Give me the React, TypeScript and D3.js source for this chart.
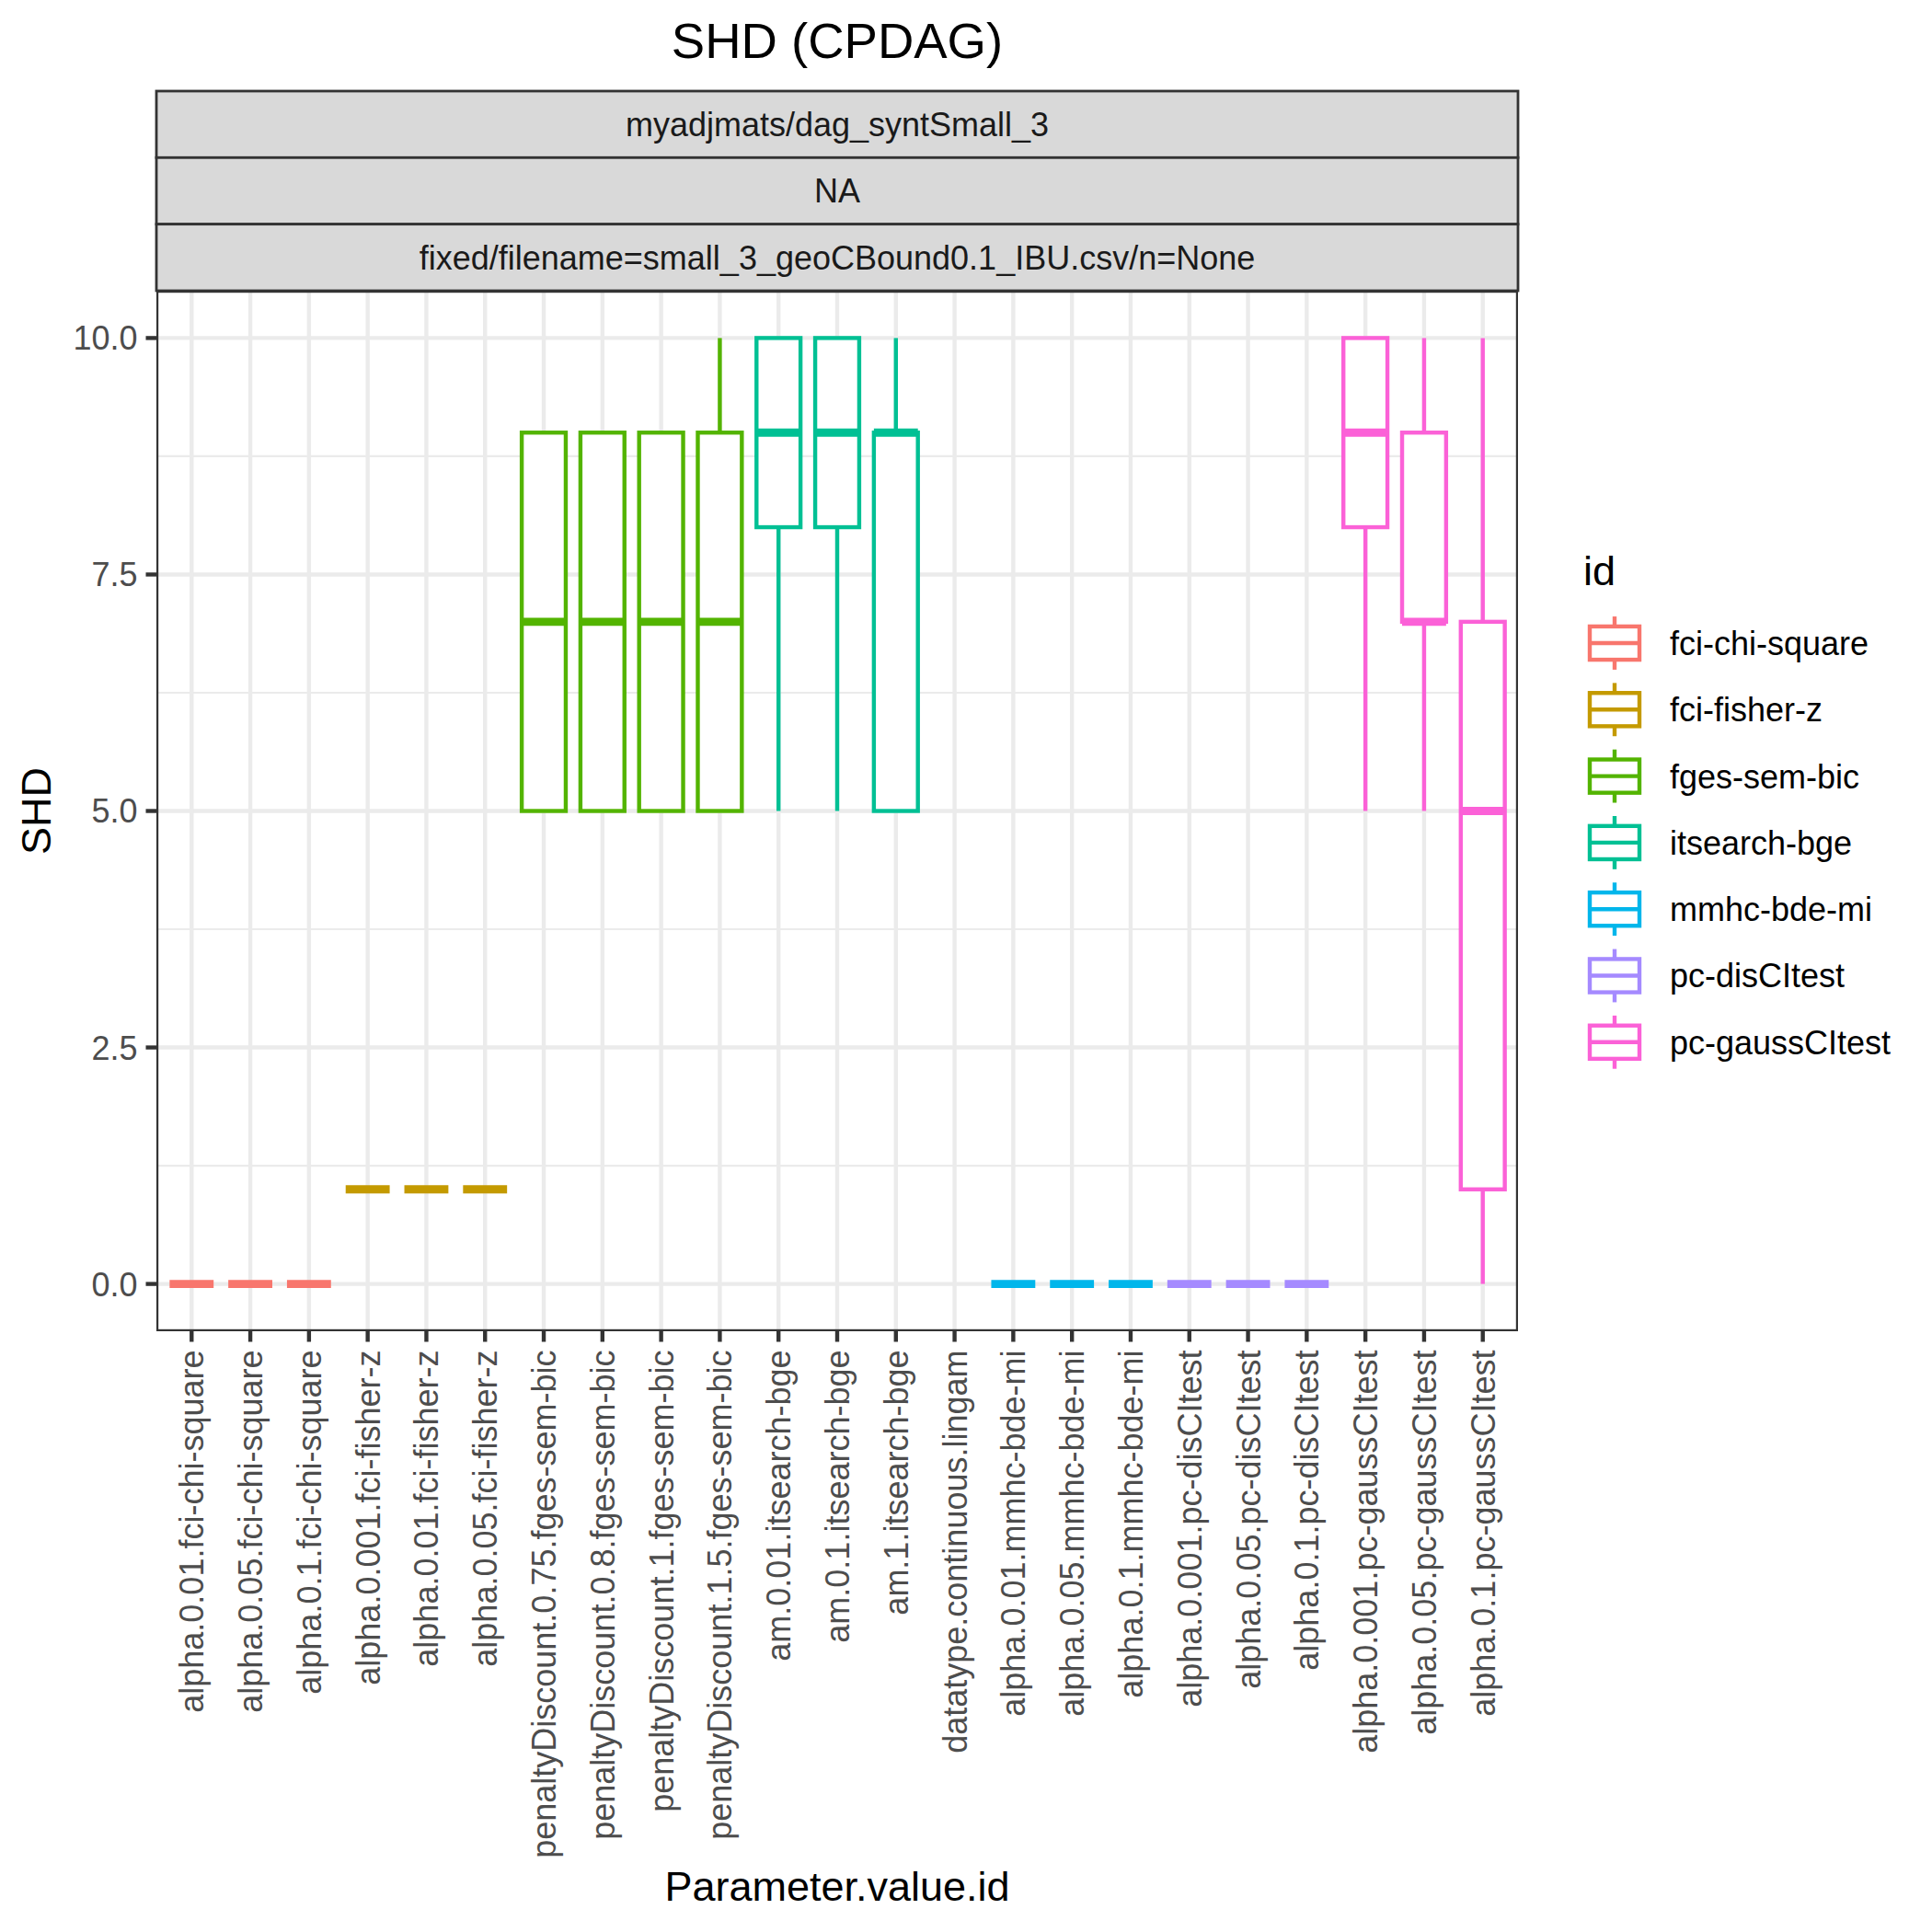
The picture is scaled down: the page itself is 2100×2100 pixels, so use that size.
import { useRef, useEffect } from "react";
import * as d3 from "d3";

// x categories (Parameter.value.id) and the method each belongs to
const categories = [
  "alpha.0.01.fci-chi-square",
  "alpha.0.05.fci-chi-square",
  "alpha.0.1.fci-chi-square",
  "alpha.0.001.fci-fisher-z",
  "alpha.0.01.fci-fisher-z",
  "alpha.0.05.fci-fisher-z",
  "penaltyDiscount.0.75.fges-sem-bic",
  "penaltyDiscount.0.8.fges-sem-bic",
  "penaltyDiscount.1.fges-sem-bic",
  "penaltyDiscount.1.5.fges-sem-bic",
  "am.0.01.itsearch-bge",
  "am.0.1.itsearch-bge",
  "am.1.itsearch-bge",
  "datatype.continuous.lingam",
  "alpha.0.01.mmhc-bde-mi",
  "alpha.0.05.mmhc-bde-mi",
  "alpha.0.1.mmhc-bde-mi",
  "alpha.0.001.pc-disCItest",
  "alpha.0.05.pc-disCItest",
  "alpha.0.1.pc-disCItest",
  "alpha.0.001.pc-gaussCItest",
  "alpha.0.05.pc-gaussCItest",
  "alpha.0.1.pc-gaussCItest",
];

const methodOf = [
  "fci-chi-square", "fci-chi-square", "fci-chi-square",
  "fci-fisher-z", "fci-fisher-z", "fci-fisher-z",
  "fges-sem-bic", "fges-sem-bic", "fges-sem-bic", "fges-sem-bic",
  "itsearch-bge", "itsearch-bge", "itsearch-bge",
  "lingam",
  "mmhc-bde-mi", "mmhc-bde-mi", "mmhc-bde-mi",
  "pc-disCItest", "pc-disCItest", "pc-disCItest",
  "pc-gaussCItest", "pc-gaussCItest", "pc-gaussCItest",
];

// boxplot stats per category (null = no data)
const whiskerLow = [0, 0, 0, 1, 1, 1, 5, 5, 5, 5, 5, 5, 5, null, 0, 0, 0, 0, 0, 0, 5, 5, 0];
const q1 = [0, 0, 0, 1, 1, 1, 5, 5, 5, 5, 8, 8, 5, null, 0, 0, 0, 0, 0, 0, 8, 7, 1];
const median = [0, 0, 0, 1, 1, 1, 7, 7, 7, 7, 9, 9, 9, null, 0, 0, 0, 0, 0, 0, 9, 7, 5];
const q3 = [0, 0, 0, 1, 1, 1, 9, 9, 9, 9, 10, 10, 9, null, 0, 0, 0, 0, 0, 0, 10, 9, 7];
const whiskerHigh = [0, 0, 0, 1, 1, 1, 9, 9, 9, 10, 10, 10, 10, null, 0, 0, 0, 0, 0, 0, 10, 10, 10];

const legendIds = [
  "fci-chi-square",
  "fci-fisher-z",
  "fges-sem-bic",
  "itsearch-bge",
  "mmhc-bde-mi",
  "pc-disCItest",
  "pc-gaussCItest",
];
const legendColors = ["#F8766D", "#C49A00", "#53B400", "#00C094", "#00B6EB", "#A58AFF", "#FB61D7"];

const yTicks = [0, 2.5, 5, 7.5, 10];
const yMinor = [1.25, 3.75, 6.25, 8.75];
const stripLabels = [
  "myadjmats/dag_syntSmall_3",
  "NA",
  "fixed/filename=small_3_geoCBound0.1_IBU.csv/n=None",
];

const FONT = "'Liberation Sans', Arial, Helvetica, sans-serif";
const SMALL = 36;
const MID = 45;

const App = () => {
  const svgRef = useRef(null);

  useEffect(() => {
    d3.select(svgRef.current).selectAll("*").remove();

    const width = 2100;
    const height = 2100;
    const panel = { left: 170, right: 1650, top: 316, bottom: 1447 };
    const stripTop = 99;
    const stripH = (panel.top - stripTop) / 3;
    const lw = 4.4;

    const svg = d3.select(svgRef.current).attr("width", width).attr("height", height);

    svg.append("rect").attr("width", width).attr("height", height).attr("fill", "white");

    const x = d3.scalePoint().domain(categories).range([panel.left, panel.right]).padding(0.6);
    const y = d3.scaleLinear().domain([-0.5, 10.5]).range([panel.bottom, panel.top]);
    const color = d3.scaleOrdinal().domain(legendIds).range(legendColors);
    const boxW = x.step() * 0.75;

    svg
      .append("defs")
      .append("clipPath")
      .attr("id", "panel-clip")
      .append("rect")
      .attr("x", panel.left)
      .attr("y", panel.top)
      .attr("width", panel.right - panel.left)
      .attr("height", panel.bottom - panel.top);

    const g = svg.append("g").attr("clip-path", "url(#panel-clip)");

    // grid
    g.selectAll(".minor")
      .data(yMinor)
      .enter()
      .append("line")
      .attr("x1", panel.left)
      .attr("x2", panel.right)
      .attr("y1", (d) => y(d))
      .attr("y2", (d) => y(d))
      .attr("stroke", "#EBEBEB")
      .attr("stroke-width", lw / 2);

    g.selectAll(".major")
      .data(yTicks)
      .enter()
      .append("line")
      .attr("x1", panel.left)
      .attr("x2", panel.right)
      .attr("y1", (d) => y(d))
      .attr("y2", (d) => y(d))
      .attr("stroke", "#EBEBEB")
      .attr("stroke-width", lw);

    g.selectAll(".vgrid")
      .data(categories)
      .enter()
      .append("line")
      .attr("x1", (d) => x(d))
      .attr("x2", (d) => x(d))
      .attr("y1", panel.top)
      .attr("y2", panel.bottom)
      .attr("stroke", "#EBEBEB")
      .attr("stroke-width", lw);

    // boxes
    categories.forEach((c, i) => {
      if (median[i] === null) return;
      const cx = x(c);
      const col = color(methodOf[i]);
      const bg = g.append("g");
      bg.append("line")
        .attr("x1", cx).attr("x2", cx)
        .attr("y1", y(q3[i])).attr("y2", y(whiskerHigh[i]))
        .attr("stroke", col).attr("stroke-width", lw);
      bg.append("line")
        .attr("x1", cx).attr("x2", cx)
        .attr("y1", y(q1[i])).attr("y2", y(whiskerLow[i]))
        .attr("stroke", col).attr("stroke-width", lw);
      bg.append("rect")
        .attr("x", cx - boxW / 2)
        .attr("y", y(q3[i]))
        .attr("width", boxW)
        .attr("height", Math.max(0, y(q1[i]) - y(q3[i])))
        .attr("fill", "white")
        .attr("stroke", col)
        .attr("stroke-width", lw);
      bg.append("line")
        .attr("x1", cx - boxW / 2).attr("x2", cx + boxW / 2)
        .attr("y1", y(median[i])).attr("y2", y(median[i]))
        .attr("stroke", col).attr("stroke-width", lw * 2);
    });

    // panel border (half clipped like ggplot)
    g.append("rect")
      .attr("x", panel.left)
      .attr("y", panel.top)
      .attr("width", panel.right - panel.left)
      .attr("height", panel.bottom - panel.top)
      .attr("fill", "none")
      .attr("stroke", "#333333")
      .attr("stroke-width", lw);

    // strips
    stripLabels.forEach((s, i) => {
      const sy = stripTop + i * stripH;
      svg.append("rect")
        .attr("x", panel.left)
        .attr("y", sy)
        .attr("width", panel.right - panel.left)
        .attr("height", stripH)
        .attr("fill", "#D9D9D9")
        .attr("stroke", "#333333")
        .attr("stroke-width", 2.8);
      svg.append("text")
        .attr("x", (panel.left + panel.right) / 2)
        .attr("y", sy + stripH / 2)
        .attr("dy", "0.36em")
        .attr("text-anchor", "middle")
        .attr("font-family", FONT)
        .attr("font-size", SMALL)
        .attr("fill", "#1A1A1A")
        .text(s);
    });

    // y axis
    const yAxis = svg.append("g");
    yTicks.forEach((t) => {
      yAxis.append("line")
        .attr("x1", panel.left - 11.5).attr("x2", panel.left)
        .attr("y1", y(t)).attr("y2", y(t))
        .attr("stroke", "#333333").attr("stroke-width", lw);
      yAxis.append("text")
        .attr("x", panel.left - 11.5 - 9)
        .attr("y", y(t))
        .attr("dy", "0.36em")
        .attr("text-anchor", "end")
        .attr("font-family", FONT)
        .attr("font-size", SMALL)
        .attr("fill", "#4D4D4D")
        .text(d3.format(".1f")(t));
    });

    // x axis
    const xAxis = svg.append("g");
    categories.forEach((c) => {
      xAxis.append("line")
        .attr("x1", x(c)).attr("x2", x(c))
        .attr("y1", panel.bottom).attr("y2", panel.bottom + 11.5)
        .attr("stroke", "#333333").attr("stroke-width", lw);
      xAxis.append("text")
        .attr("transform", `translate(${x(c)},${panel.bottom + 11.5 + 9}) rotate(-90)`)
        .attr("dy", "0.36em")
        .attr("text-anchor", "end")
        .attr("font-family", FONT)
        .attr("font-size", SMALL)
        .attr("fill", "#4D4D4D")
        .text(c);
    });

    // titles
    svg.append("text")
      .attr("x", (panel.left + panel.right) / 2)
      .attr("y", 63)
      .attr("text-anchor", "middle")
      .attr("font-family", FONT)
      .attr("font-size", 54.5)
      .attr("fill", "black")
      .text("SHD (CPDAG)");

    svg.append("text")
      .attr("x", (panel.left + panel.right) / 2)
      .attr("y", 2066)
      .attr("text-anchor", "middle")
      .attr("font-family", FONT)
      .attr("font-size", MID)
      .attr("fill", "black")
      .text("Parameter.value.id");

    svg.append("text")
      .attr("transform", `translate(55,${(panel.top + panel.bottom) / 2}) rotate(-90)`)
      .attr("text-anchor", "middle")
      .attr("font-family", FONT)
      .attr("font-size", MID)
      .attr("fill", "black")
      .text("SHD");

    // legend
    const legend = svg.append("g");
    legend.append("text")
      .attr("x", 1721)
      .attr("y", 636)
      .attr("font-family", FONT)
      .attr("font-size", MID)
      .attr("fill", "black")
      .text("id");

    const keyW = 72;
    const keyH = 72.3;
    const keyX = 1719;
    const keyTop = 699 - keyH / 2;
    legendIds.forEach((id, i) => {
      const ky = keyTop + i * keyH;
      const col = color(id);
      const kx0 = keyX + keyW * 0.125;
      const kx1 = keyX + keyW * 0.875;
      const kcx = keyX + keyW / 2;
      legend.append("line")
        .attr("x1", kcx).attr("x2", kcx)
        .attr("y1", ky + keyH * 0.1).attr("y2", ky + keyH * 0.25)
        .attr("stroke", col).attr("stroke-width", lw);
      legend.append("line")
        .attr("x1", kcx).attr("x2", kcx)
        .attr("y1", ky + keyH * 0.75).attr("y2", ky + keyH * 0.9)
        .attr("stroke", col).attr("stroke-width", lw);
      legend.append("rect")
        .attr("x", kx0)
        .attr("y", ky + keyH * 0.25)
        .attr("width", kx1 - kx0)
        .attr("height", keyH * 0.5)
        .attr("fill", "white")
        .attr("stroke", col)
        .attr("stroke-width", lw);
      legend.append("line")
        .attr("x1", kx0).attr("x2", kx1)
        .attr("y1", ky + keyH / 2).attr("y2", ky + keyH / 2)
        .attr("stroke", col).attr("stroke-width", lw);
      legend.append("text")
        .attr("x", 1815)
        .attr("y", ky + keyH / 2)
        .attr("dy", "0.36em")
        .attr("font-family", FONT)
        .attr("font-size", SMALL)
        .attr("fill", "black")
        .text(id);
    });
  }, []);

  return (
    <div style={{ position: "absolute", left: 0, top: 0 }}>
      <svg ref={svgRef}></svg>
    </div>
  );
};

export default App;
